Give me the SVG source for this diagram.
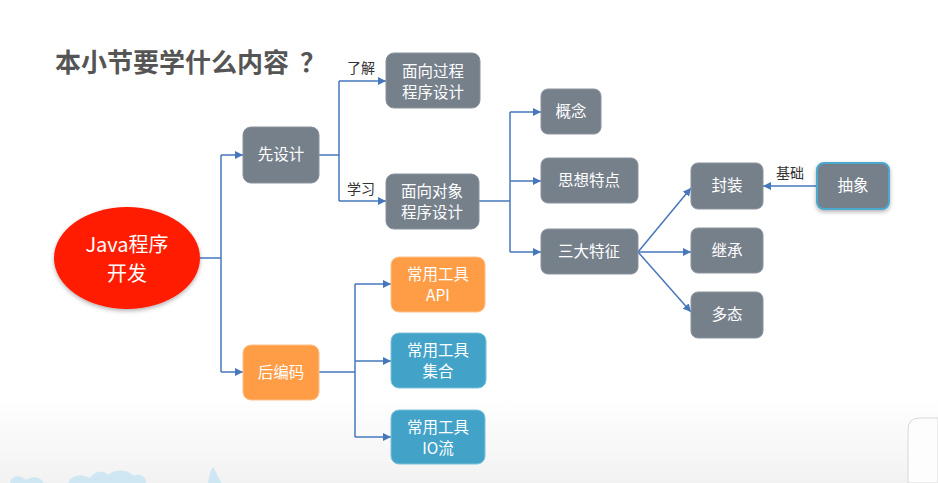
<svg xmlns="http://www.w3.org/2000/svg" width="938" height="483" viewBox="0 0 938 483">
<defs>
<linearGradient id="bg" x1="0" y1="0" x2="0" y2="1">
<stop offset="0" stop-color="#ffffff"/>
<stop offset="0.82" stop-color="#ffffff"/>
<stop offset="1" stop-color="#f2f2f2"/>
</linearGradient>
<filter id="sh" x="-20%" y="-20%" width="140%" height="150%">
<feDropShadow dx="0" dy="2" stdDeviation="2" flood-color="#000" flood-opacity="0.3"/>
</filter>
<marker id="arr" viewBox="0 0 10 10" refX="10" refY="5" markerWidth="8" markerHeight="8" markerUnits="userSpaceOnUse" orient="auto">
<path d="M0,0 L10,5 L0,10 z" fill="#4677BB"/>
</marker>
<style>
.n{fill:#76808B;stroke:#8a939d;stroke-width:1}
.o{fill:#FF9C46;stroke:#ffc089;stroke-width:1}
.b{fill:#42A2C8;stroke:#7cc2dc;stroke-width:1}
.t{font-family:"Noto Sans CJK SC","Noto Sans",sans-serif;font-size:15.5px;fill:#ffffff;text-anchor:middle}
.big{font-size:20px}
.l{font-family:"Noto Sans CJK SC","Noto Sans",sans-serif;font-size:14px;fill:#333333}
.c{fill:none;stroke:#4677BB;stroke-width:1.5}
.ti{font-family:"Noto Sans CJK SC","Noto Sans",sans-serif;font-size:26px;font-weight:bold;fill:#555555}
</style>
</defs>
<rect x="0" y="0" width="938" height="483" fill="url(#bg)"/>
<path d="M10,483 C12,475 20,474 26,480 C32,476 40,476 44,483 Z" fill="#cfe6f3"/>
<path d="M68,483 C72,474 82,474 90,478 C96,470 104,470 108,475 C116,468 128,470 134,476 C140,473 146,476 146,483 Z" fill="#cfe6f3"/>
<path d="M208,483 C210,470 213,465 214,468 C216,472 218,478 222,483 Z" fill="#cfe6f3"/>
<path d="M908,483 L908,430 Q908,418 920,418 L938,418 L938,483 Z" fill="#fdfdfd" stroke="#d8d8d8" stroke-width="1"/>
<text class="ti" x="55" y="72">本小节要学什么内容</text>
<text class="ti" x="300" y="72">？</text>
<g id="connectors">
<polyline class="c" points="200,258 221,258"/>
<polyline class="c" points="221,155 221,372"/>
<polyline class="c" points="221,155 243,155" marker-end="url(#arr)"/>
<polyline class="c" points="221,372 243,372" marker-end="url(#arr)"/>
<polyline class="c" points="319,155 339,155"/>
<polyline class="c" points="339,81 339,201"/>
<polyline class="c" points="339,81 386,81" marker-end="url(#arr)"/>
<polyline class="c" points="339,201 386,201" marker-end="url(#arr)"/>
<polyline class="c" points="479,201 510,201"/>
<polyline class="c" points="510,112 510,252"/>
<polyline class="c" points="510,112 541,112" marker-end="url(#arr)"/>
<polyline class="c" points="510,181 541,181" marker-end="url(#arr)"/>
<polyline class="c" points="510,252 541,252" marker-end="url(#arr)"/>
<line class="c" x1="638" y1="252" x2="691" y2="188" marker-end="url(#arr)"/>
<line class="c" x1="638" y1="252" x2="691" y2="252" marker-end="url(#arr)"/>
<line class="c" x1="638" y1="252" x2="691" y2="312" marker-end="url(#arr)"/>
<line class="c" x1="817" y1="186" x2="763" y2="186" marker-end="url(#arr)"/>
<polyline class="c" points="319,372 355,372"/>
<polyline class="c" points="355,284 355,437"/>
<polyline class="c" points="355,284 391,284" marker-end="url(#arr)"/>
<polyline class="c" points="355,361 391,361" marker-end="url(#arr)"/>
<polyline class="c" points="355,437 391,437" marker-end="url(#arr)"/>
<text class="l" x="347" y="73">了解</text>
<text class="l" x="347" y="194">学习</text>
<text class="l" x="776" y="178">基础</text>
</g>
<g id="java">
<ellipse cx="127" cy="258" rx="73" ry="51" fill="#FF1A00" filter="url(#sh)"/>
<text class="t big" x="127" y="252">Java程序</text>
<text class="t big" x="127" y="281">开发</text>
</g>
<g id="xiansheji"><rect class="n" x="243" y="127" width="76" height="56" rx="8"/><text class="t" x="281" y="160">先设计</text></g>
<g id="houbianma"><rect class="o" x="243" y="345" width="76" height="55" rx="8"/><text class="t" x="281" y="378">后编码</text></g>
<g id="mianxiangguocheng"><rect class="n" x="386" y="53" width="94" height="55" rx="8"/><text class="t" x="433" y="77">面向过程</text><text class="t" x="433" y="98">程序设计</text></g>
<g id="mianxiangduixiang"><rect class="n" x="386" y="174" width="93" height="55" rx="8"/><text class="t" x="432" y="197">面向对象</text><text class="t" x="432" y="218">程序设计</text></g>
<g id="api"><rect class="o" x="391" y="257" width="94" height="55" rx="8"/><text class="t" x="438" y="280">常用工具</text><text class="t" x="438" y="301">API</text></g>
<g id="jihe"><rect class="b" x="391" y="333" width="95" height="55" rx="8"/><text class="t" x="438" y="356">常用工具</text><text class="t" x="438" y="377">集合</text></g>
<g id="io"><rect class="b" x="391" y="410" width="94" height="54" rx="8"/><text class="t" x="438" y="433">常用工具</text><text class="t" x="438" y="454">IO流</text></g>
<g id="gainian"><rect class="n" x="541" y="89" width="60" height="45" rx="7"/><text class="t" x="571" y="117">概念</text></g>
<g id="sixiang"><rect class="n" x="541" y="158" width="97" height="45" rx="7"/><text class="t" x="589" y="186">思想特点</text></g>
<g id="sanda"><rect class="n" x="541" y="229" width="97" height="45" rx="7"/><text class="t" x="589" y="257">三大特征</text></g>
<g id="fengzhuang"><rect class="n" x="691" y="163" width="72" height="46" rx="7"/><text class="t" x="727" y="191">封装</text></g>
<g id="jicheng"><rect class="n" x="691" y="228" width="72" height="45" rx="7"/><text class="t" x="727" y="256">继承</text></g>
<g id="duotai"><rect class="n" x="691" y="292" width="72" height="46" rx="7"/><text class="t" x="727" y="320">多态</text></g>
<g id="chouxiang"><rect x="817" y="163" width="72" height="46" rx="7" fill="#76808B" stroke="#4BA8CF" stroke-width="2" filter="url(#sh)"/><text class="t" x="853" y="191">抽象</text></g>
</svg>
